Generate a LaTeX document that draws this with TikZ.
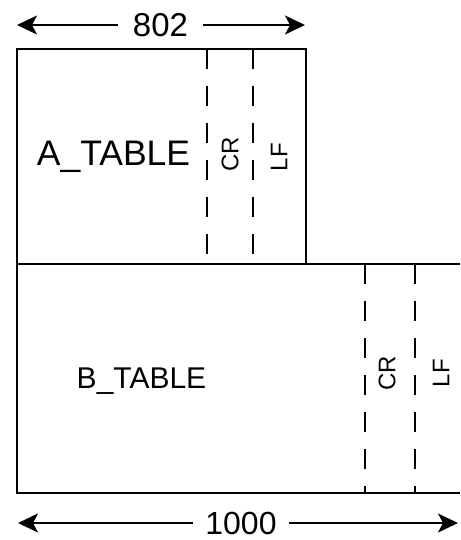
\documentclass[tikz,border=0pt]{standalone}
\usepackage{fontspec}
\setmainfont{Liberation Sans}
\usetikzlibrary{arrows.meta}
\tikzset{
  edge/.style={line width=2pt},
  cut/.style={line width=2pt, dash pattern=on 20pt off 17pt},
  dim/.style={line width=1.8pt, -{Stealth[length=20pt,width=19pt,inset=5pt]}},
  side/.style={rotate=90, inner sep=0pt, font=\fontsize{24}{24}\selectfont},
}
\begin{document}
\begin{tikzpicture}[x=1pt,y=-1pt]
    \useasboundingbox (0,0) rectangle (460,540);
    % tables
    \draw [edge] (17,264) -- (17,49) -- (306,49) -- (306,264);
    \draw [edge] (460,264) -- (17,264) -- (17,493) -- (460,493);
    % dashed columns
    \draw [cut] (207,49) -- (207,264);
    \draw [cut] (253,49) -- (253,264);
    \draw [cut] (365,264) -- (365,493);
    \draw [cut] (415,264) -- (415,493);
    % names
    \node [anchor=base, inner sep=0pt, font=\fontsize{35.5}{35.5}\selectfont] (atable) at (113.5,165) {A\_TABLE};
    \node [anchor=base, inner sep=0pt, font=\fontsize{30}{30}\selectfont] (btable) at (141.5,388) {B\_TABLE};
    \node [side] (acr) at (230,154) {CR};
    \node [side] (alf) at (279,157) {LF};
    \node [side] (bcr) at (387,373) {CR};
    \node [side] (blf) at (441,373) {LF};
    % widths
    \node [inner xsep=15pt, inner ysep=0pt, font=\fontsize{33}{33}\selectfont] (w802) at (160.5,25) {802};
    \coordinate (w802l) at (17,25);
    \coordinate (w802r) at (305,25);
    \draw [dim] (w802.west) -- (w802l);
    \draw [dim] (w802.east) -- (w802r);
    \node [inner xsep=12pt, inner ysep=0pt, font=\fontsize{32}{32}\selectfont] (w1000) at (241,523) {1000};
    \coordinate (w1000l) at (18,523);
    \coordinate (w1000r) at (458,523);
    \draw [dim] (w1000.west) -- (w1000l);
    \draw [dim] (w1000.east) -- (w1000r);
\end{tikzpicture}
\end{document}
